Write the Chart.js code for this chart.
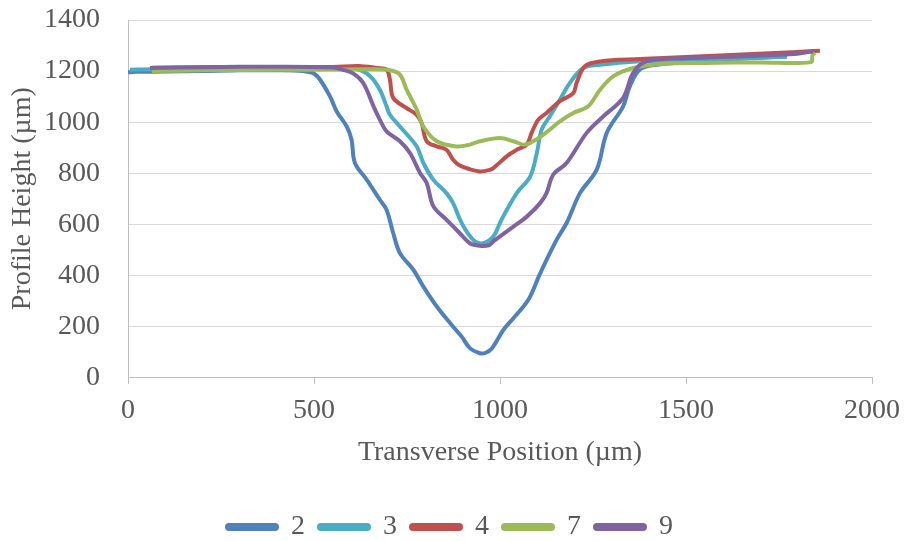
<!DOCTYPE html>
<html>
<head>
<meta charset="utf-8">
<script src="https://cdn.jsdelivr.net/npm/chart.js@4/dist/chart.umd.min.js"></script>
<style>
  html, body { margin: 0; padding: 0; background: #ffffff; }
  #wrap { width: 904px; height: 541px; position: relative; }
</style>
</head>
<body>
<div id="wrap"><canvas id="c" width="904" height="541"></canvas></div>
<script>
// Series labels
const seriesNames = ["2", "3", "4", "7", "9"];

// Transverse position (µm) and profile height (µm) for each series
const x2 = [0, 20, 100, 200, 300, 400, 470, 500, 516, 543, 561, 588, 601, 610, 642, 677, 695, 713, 731, 767, 794, 830, 874, 897, 919, 946, 960, 978, 1009, 1036, 1063, 1081, 1108, 1152, 1179, 1215, 1260, 1287, 1331, 1349, 1376, 1421, 1500, 1600, 1700, 1771];
const y2 = [1195, 1197, 1198, 1200, 1203, 1203, 1200, 1190, 1167, 1101, 1042, 983, 931, 840, 774, 696, 657, 565, 487, 422, 356, 278, 199, 160, 115, 95, 96, 114, 186, 232, 278, 317, 408, 539, 605, 722, 814, 958, 1062, 1140, 1206, 1225, 1235, 1245, 1252, 1258];

const x3 = [5, 64, 200, 400, 550, 615, 651, 677, 695, 704, 731, 776, 794, 821, 856, 874, 892, 910, 933, 955, 982, 1004, 1045, 1081, 1099, 1112, 1134, 1161, 1188, 1224, 1269, 1376, 1500, 1650, 1771];
const y3 = [1205, 1207, 1208, 1210, 1212, 1208, 1180, 1127, 1062, 1029, 983, 905, 840, 774, 722, 683, 620, 572, 533, 526, 552, 618, 722, 787, 879, 971, 1023, 1088, 1154, 1212, 1225, 1238, 1243, 1250, 1256];

const x4 = [64, 200, 400, 550, 620, 670, 695, 704, 713, 749, 776, 789, 803, 830, 856, 874, 892, 920, 946, 970, 982, 1018, 1045, 1072, 1085, 1103, 1125, 1161, 1197, 1206, 1228, 1269, 1376, 1500, 1650, 1800, 1860];
const y4 = [1213, 1215, 1216, 1216, 1220, 1212, 1206, 1167, 1095, 1055, 1029, 997, 925, 905, 892, 853, 830, 815, 807, 812, 820, 866, 892, 912, 958, 1010, 1036, 1082, 1114, 1154, 1219, 1238, 1247, 1255, 1265, 1275, 1280];

const x7 = [64, 200, 400, 550, 650, 704, 731, 749, 776, 794, 830, 883, 919, 946, 1000, 1036, 1063, 1081, 1117, 1161, 1197, 1237, 1269, 1305, 1358, 1430, 1550, 1700, 1836, 1840, 1847];
const y7 = [1200, 1203, 1205, 1206, 1207, 1203, 1186, 1127, 1049, 983, 925, 905, 912, 925, 938, 925, 912, 918, 951, 1003, 1036, 1062, 1127, 1180, 1212, 1228, 1232, 1234, 1235, 1262, 1271];

const x9 = [59, 200, 400, 550, 578, 606, 632, 660, 677, 695, 731, 758, 785, 803, 821, 856, 892, 919, 946, 970, 982, 1036, 1072, 1108, 1125, 1143, 1179, 1233, 1278, 1331, 1358, 1394, 1500, 1650, 1800, 1842];
const y9 = [1212, 1215, 1217, 1214, 1205, 1190, 1154, 1062, 1010, 964, 925, 879, 801, 762, 670, 618, 565, 526, 516, 518, 533, 591, 630, 683, 722, 794, 840, 958, 1023, 1095, 1193, 1238, 1250, 1258, 1268, 1278];

// Axis ticks
const xTicks = [0, 500, 1000, 1500, 2000];
const yTicks = [0, 200, 400, 600, 800, 1000, 1200, 1400];

const colors = ["#4F81BD", "#4BACC6", "#C0504D", "#9BBB59", "#8064A2"];
const xs = [x2, x3, x4, x7, x9];
const ys = [y2, y3, y4, y7, y9];

function toPoints(xa, ya) { return xa.map((v, i) => ({ x: v, y: ya[i] })); }

const datasets = seriesNames.map((name, i) => ({
  label: name,
  data: toPoints(xs[i], ys[i]),
  borderColor: colors[i],
  backgroundColor: colors[i],
  borderWidth: 4,
  pointRadius: 0,
  showLine: true,
  tension: 0.35,
  order: seriesNames.length - i
}));

const FONT = "'Liberation Serif', 'Times New Roman', serif";
const TEXT = "#595959";

new Chart(document.getElementById('c'), {
  type: 'scatter',
  data: { datasets },
  options: {
    responsive: false,
    animation: false,
    devicePixelRatio: 1,
    layout: { padding: { left: 28, right: 32, top: 20, bottom: -10 } },
    plugins: {
      tooltip: { enabled: false },
      legend: {
        position: 'bottom',
        labels: {
          boxWidth: 50,
          boxHeight: 4,
          padding: 14,
          useBorderRadius: true,
          borderRadius: 2,
          color: TEXT,
          font: { family: FONT, size: 28 },
          sort: (a, b) => a.datasetIndex - b.datasetIndex
        }
      }
    },
    scales: {
      x: {
        type: 'linear',
        min: 0, max: 2000,
        afterBuildTicks: (s) => { s.ticks = xTicks.map(v => ({ value: v })); },
        afterFit: (s) => { s.height = 121.5; },
        grid: { drawOnChartArea: false, drawTicks: true, tickLength: 12, tickBorderDash: [6, 40], color: '#BFBFBF' },
        border: { color: '#BFBFBF', width: 1 },
        ticks: { color: TEXT, font: { family: FONT, size: 28 }, padding: 4, maxRotation: 0, callback: (v) => String(v) },
        title: { display: true, text: 'Transverse Position (µm)', color: TEXT, font: { family: FONT, size: 28 }, padding: { top: 0, bottom: 30 } }
      },
      y: {
        type: 'linear',
        min: 0, max: 1400,
        afterBuildTicks: (s) => { s.ticks = yTicks.map(v => ({ value: v })); },
        afterFit: (s) => { s.width = 100; },
        grid: { drawTicks: true, tickLength: 28, tickColor: 'rgba(0,0,0,0)', color: '#D9D9D9' },
        border: { color: '#BFBFBF', width: 1 },
        ticks: { color: TEXT, font: { family: FONT, size: 28 }, padding: 0, callback: (v) => String(v) },
        title: { display: true, text: 'Profile Height (µm)', color: TEXT, font: { family: FONT, size: 28 }, padding: { top: -22, bottom: 0 } }
      }
    }
  }
});
</script>
</body>
</html>
